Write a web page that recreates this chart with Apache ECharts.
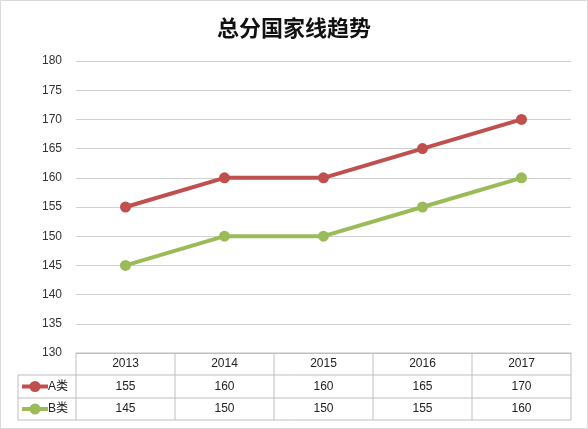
<!DOCTYPE html>
<html><head><meta charset="utf-8">
<script src="https://cdn.jsdelivr.net/npm/echarts@6/dist/echarts.min.js"></script>
<style>html,body{margin:0;padding:0;background:#fff}#c{width:588px;height:429px}</style>
</head><body><div id="c"></div>
<script>
var years = ['2013', '2014', '2015', '2016', '2017'];
var seriesA = [155, 160, 160, 165, 170];
var seriesB = [145, 150, 150, 155, 160];
var nameA = 'A类', nameB = 'B类';
var colorA = '#c0504d', colorB = '#9bbb59';

var chart = echarts.init(document.getElementById('c'));
var option = {
    backgroundColor: '#fff',
    animation: false,
    title: {
        text: '总分国家线趋势', left: 'center', top: 12,
        textStyle: {fontFamily: 'Noto Sans CJK SC', fontSize: 22, fontWeight: 'bold', color: '#111'}
    },
    grid: {left: 76, right: 17, top: 61, bottom: 76},
    xAxis: {
        type: 'category', data: years, boundaryGap: true,
        axisLabel: {show: false}, axisTick: {show: false},
        axisLine: {lineStyle: {color: '#bfbfbf'}}
    },
    yAxis: {
        type: 'value', min: 130, max: 180, interval: 5,
        axisLine: {show: false}, axisTick: {show: false},
        axisLabel: {color: '#333', fontSize: 12, fontFamily: 'Liberation Sans', margin: 14},
        splitLine: {lineStyle: {color: '#d0d0d0'}}
    },
    series: [
        {name: nameA, type: 'line', data: seriesA, symbol: 'circle', symbolSize: 11,
         lineStyle: {width: 4, color: colorA}, itemStyle: {color: colorA}},
        {name: nameB, type: 'line', data: seriesB, symbol: 'circle', symbolSize: 11,
         lineStyle: {width: 4, color: colorB}, itemStyle: {color: colorB}}
    ]
};
chart.setOption(option);

// data table below plot
var rows = [353, 375, 398, 420];
var x0 = chart.convertToPixel({xAxisIndex: 0}, years[0]);
var x1 = chart.convertToPixel({xAxisIndex: 0}, years[1]);
var band = x1 - x0;
var left = x0 - band / 2, right = left + band * years.length, tabLeft = 18;
var els = [];
var line = function (a, b, c, d) {
    els.push({type: 'line', shape: {x1: a, y1: b, x2: c, y2: d}, style: {stroke: '#bfbfbf', lineWidth: 1}});
};
line(left, rows[0], right, rows[0]);
line(tabLeft, rows[1], right, rows[1]);
line(tabLeft, rows[2], right, rows[2]);
line(tabLeft, rows[3], right, rows[3]);
line(tabLeft, rows[1], tabLeft, rows[3]);
for (var i = 0; i <= years.length; i++) line(left + band * i, rows[0], left + band * i, rows[3]);
var txt = function (s, x, y, align) {
    els.push({type: 'text', x: x, y: y, style: {text: s, fill: '#222', fontSize: 12, fontFamily: 'Liberation Sans, Noto Sans CJK SC', align: align || 'center', verticalAlign: 'middle'}});
};
years.forEach(function (y, i) {
    var cx = chart.convertToPixel({xAxisIndex: 0}, y);
    txt(y, cx, (rows[0] + rows[1]) / 2);
    txt(String(seriesA[i]), cx, (rows[1] + rows[2]) / 2);
    txt(String(seriesB[i]), cx, (rows[2] + rows[3]) / 2);
});
[[nameA, colorA, 1], [nameB, colorB, 2]].forEach(function (r) {
    var cy = (rows[r[2]] + rows[r[2] + 1]) / 2;
    els.push({type: 'line', shape: {x1: 22, y1: cy, x2: 48, y2: cy}, style: {stroke: r[1], lineWidth: 4}});
    els.push({type: 'circle', shape: {cx: 35, cy: cy, r: 5.5}, style: {fill: r[1]}});
    txt(r[0], 48, cy, 'left');
});
els.push({type: 'rect', shape: {x: 0.5, y: 0.5, width: 587, height: 428}, style: {fill: 'none', stroke: '#d9d9d9'}});
chart.setOption({graphic: {elements: els}});
</script></body></html>
